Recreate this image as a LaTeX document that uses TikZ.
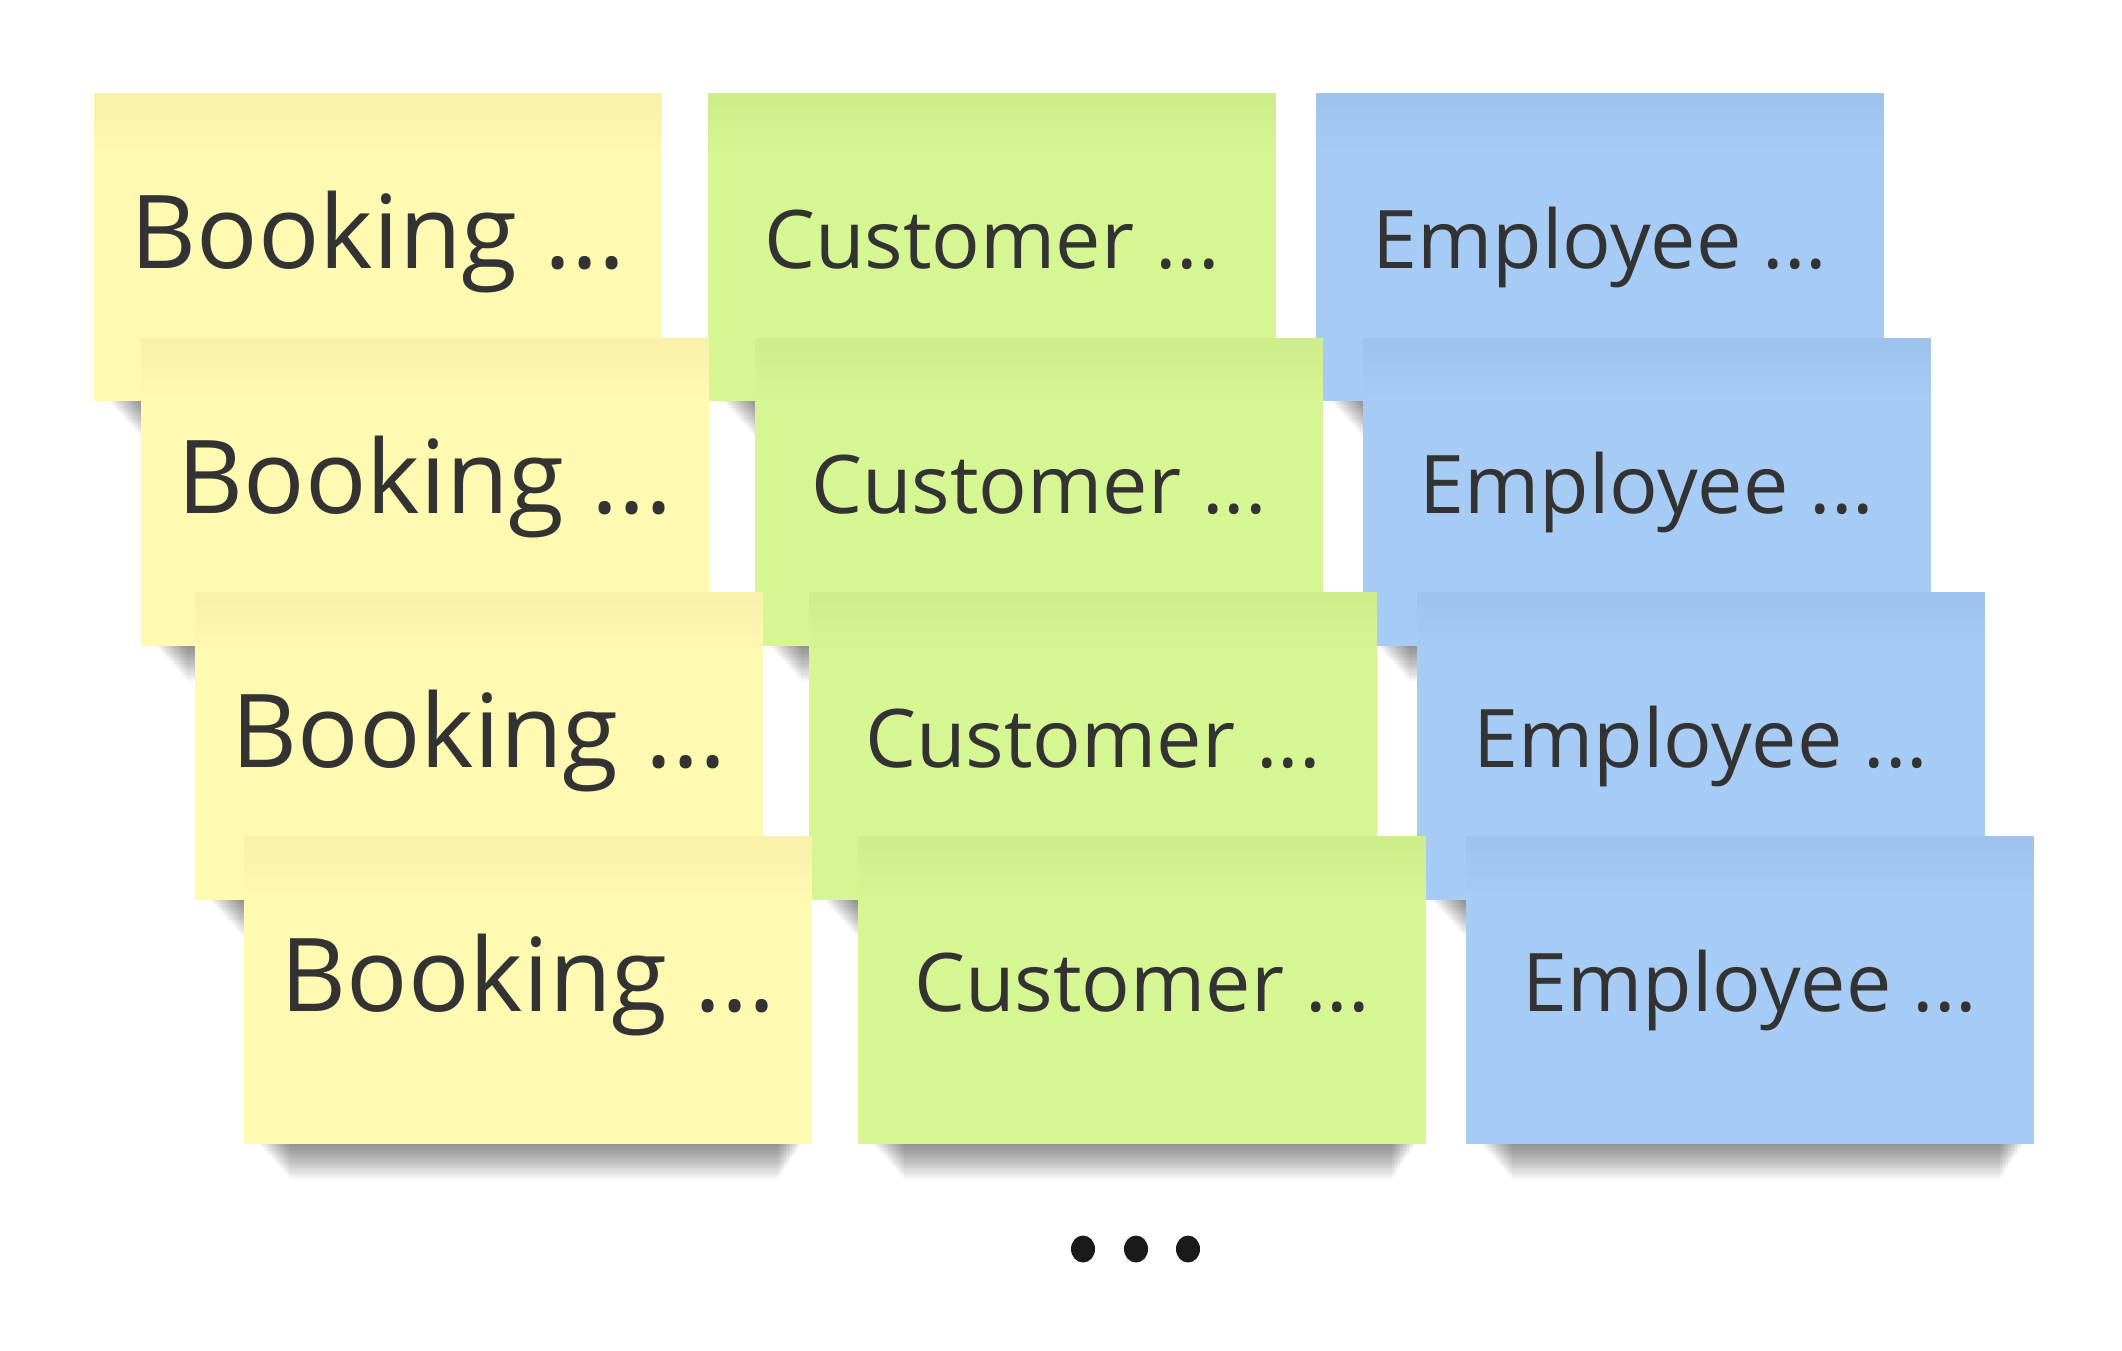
\documentclass[tikz,border=0pt]{standalone}
\usepackage{fontspec}
\setmainfont{Open Sans}
\definecolor{stickyyellow}{HTML}{FFF9B1}
\definecolor{stickygreen}{HTML}{D5F692}
\definecolor{stickyblue}{HTML}{A6CCF5}
\definecolor{inkgray}{HTML}{333333}
\definecolor{dotblack}{HTML}{1A1A1A}
\tikzset{
  note/.style={font=\fontsize{23}{28}\selectfont,text=inkgray,anchor=base,inner sep=0pt},
  bignote/.style={note,font=\fontsize{29}{34}\selectfont}
}

\begin{document}
\begin{tikzpicture}[x=0.01cm,y=-0.01cm]
\def\w{568}\def\h{308}
\fill[white] (0,0) rectangle (2122,1350);
\useasboundingbox (0,0) rectangle (2122,1350);
% four rows of sticky notes, each row shifted right and down
\foreach \row/\dx/\dy in {1/0/0,2/47/245,3/101/499,4/150/743}{
 \foreach \nm/\xx/\col/\txt/\sty in {b/94/stickyyellow/Booking/bignote,c/708/stickygreen/Customer/note,e/1316/stickyblue/Employee/note}{
  % soft shadow under the bottom edge
  \foreach \i in {1,...,16}{\fill[black,opacity=0.03] (\xx+\dx+14+2*\i,\dy+93+\h-2) rectangle (\xx+\dx+\w-10-1.5*\i,\dy+93+\h+2.2*\i);}
  \fill[\col] (\xx+\dx,\dy+93) rectangle +(\w,\h);
  \foreach \i in {1,...,4}{\fill[black,opacity=0.006] (\xx+\dx,\dy+93) rectangle +(\w,14*\i);}
  \node[\sty] (\nm\row) at (\xx+\dx+\w/2,\dy+93+175) {\txt\ ...};
 }
}
% more notes follow
\foreach \i/\xd in {1/1083,2/1136,3/1188}{\fill[dotblack] (\xd,1249) ellipse [x radius=12,y radius=13.5];}
\end{tikzpicture}
\end{document}
